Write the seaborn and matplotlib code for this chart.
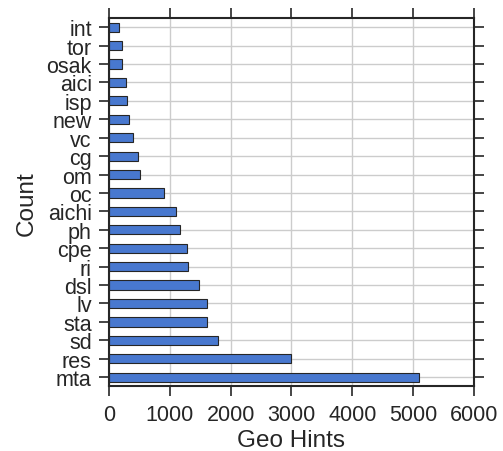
import pandas as pd
import matplotlib.pyplot as plt
import seaborn as sns

# Geo hint counts, top of the chart first
hints = ["int", "tor", "osak", "aici", "isp", "new", "vc", "cg", "om", "oc",
         "aichi", "ph", "cpe", "ri", "dsl", "lv", "sta", "sd", "res", "mta"]
counts = [170, 213, 218, 279, 290, 323, 389, 482, 504, 908,
          1095, 1171, 1276, 1292, 1473, 1604, 1604, 1785, 3000, 5090]

data = pd.DataFrame({"hint": hints, "count": counts})

sns.set_style("ticks")
plt.rcParams["font.family"] = ["Liberation Sans", "DejaVu Sans"]

fig, ax = plt.subplots(figsize=(5.03, 4.52), dpi=100)
sns.barplot(x="count", y="hint", data=data, order=hints, color="#4878cf",
            saturation=1, width=0.5, edgecolor="#262626", linewidth=0.8, ax=ax)

ax.set_xlim(0, 6000)
ax.set_xticks(range(0, 7000, 1000))
ax.grid(True, color="#cccccc", linewidth=1)
ax.set_axisbelow(True)
ax.tick_params(top=True, right=True, labelsize=15.5, length=7.5, width=1.2,
               color="#262626", pad=5)
for s in ax.spines.values():
    s.set_color("#262626")
    s.set_linewidth(1.5)

ax.set_xlabel("Geo Hints", fontsize=17.5, labelpad=3)
ax.set_ylabel("Count", fontsize=17.5, labelpad=6)

fig.subplots_adjust(left=0.217, right=0.942, top=0.958, bottom=0.143)
fig.savefig("out.png", dpi=100)
